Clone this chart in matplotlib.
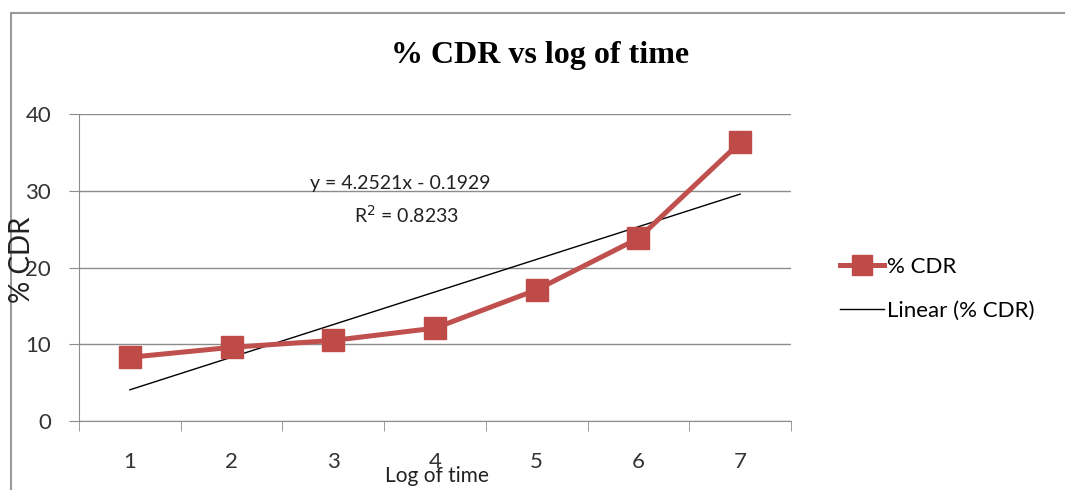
import numpy as np
import matplotlib.pyplot as plt
from matplotlib.lines import Line2D
from matplotlib.patches import Rectangle

# data
log_time = [1, 2, 3, 4, 5, 6, 7]
cdr = [8.3, 9.6, 10.5, 12.1, 17.1, 23.8, 36.3]
y_ticks = [0, 10, 20, 30, 40]
trend_eq = "y = 4.2521x - 0.1929"
trend_r2 = "R$^2$ = 0.8233"

red = '#C0504D'
grid_gray = '#8C8C8C'
sans = ['Lato', 'DejaVu Sans']

fig = plt.figure(figsize=(10.65, 4.9), dpi=100)
ax = fig.add_axes([79 / 1065, 69 / 490, 712 / 1065, 307 / 490])

# chart border
fig.patches.append(Rectangle((11 / 1065, -0.01), 1.0, 1 - 13 / 490 + 0.01,
                             transform=fig.transFigure, fill=False,
                             edgecolor='#9A9A9A', linewidth=1.5))

# linear trendline (least squares)
slope, intercept = np.polyfit(log_time, cdr, 1)
xs = np.array([log_time[0], log_time[-1]])
ax.plot(xs, slope * xs + intercept, color='black', linewidth=1.0, zorder=3)

ax.plot(log_time, cdr, color=red, linewidth=3.6, marker='s', markersize=16,
        markerfacecolor='#BE4B48', markeredgecolor='#BE4B48', zorder=4)

ax.set_xlim(0.5, 7.5)
ax.set_ylim(0, 40)
ax.set_yticks(y_ticks)
ax.set_xticks(log_time)
ax.set_xticks(np.arange(0.5, 8, 1), minor=True)
ax.tick_params(axis='x', which='major', length=0, pad=22, labelsize=16)
ax.tick_params(axis='x', which='minor', length=7, direction='out', color=grid_gray)
ax.tick_params(axis='y', length=7, direction='out', color=grid_gray, pad=13, labelsize=16)
for lab in ax.get_xticklabels() + ax.get_yticklabels():
    lab.set_family(sans)
    lab.set_color('#333333')

ax.yaxis.grid(True, color=grid_gray, linewidth=1.0)
ax.set_axisbelow(True)
for side in ['top', 'right']:
    ax.spines[side].set_visible(False)
for side in ['left', 'bottom']:
    ax.spines[side].set_color(grid_gray)

ax.text(3.66, 31.0, trend_eq, fontsize=14, family=sans, ha='center', va='center', color='#222222')
ax.text(3.72, 26.8, trend_r2, fontsize=14, family=sans, ha='center', va='center', color='#222222')

fig.text(540 / 1065, 1 - 55 / 490, '% CDR vs log of time', fontsize=23, fontweight='bold',
         family='Liberation Serif', ha='center', va='center')
fig.text(22 / 1065, 1 - 260 / 490, '% CDR', fontsize=20, family=sans, rotation=90,
         ha='center', va='center', color='#222222')
fig.text(437 / 1065, 1 - 476 / 490, 'Log of time', fontsize=15, family=sans,
         ha='center', va='center', color='#222222')

handles = [Line2D([], [], color=red, linewidth=3.6, marker='s', markersize=14,
                  markerfacecolor='#BE4B48', markeredgecolor='#BE4B48'),
           Line2D([], [], color='black', linewidth=1.0)]
fig.legend(handles, ['% CDR', 'Linear (% CDR)'], loc='center left',
           bbox_to_anchor=(820 / 1065, 1 - 289 / 490), frameon=False,
           prop={'family': sans, 'size': 16}, handlelength=2.0, handletextpad=0.1,
           labelspacing=1.1)

fig.savefig('out.png', dpi=100, facecolor='white')
